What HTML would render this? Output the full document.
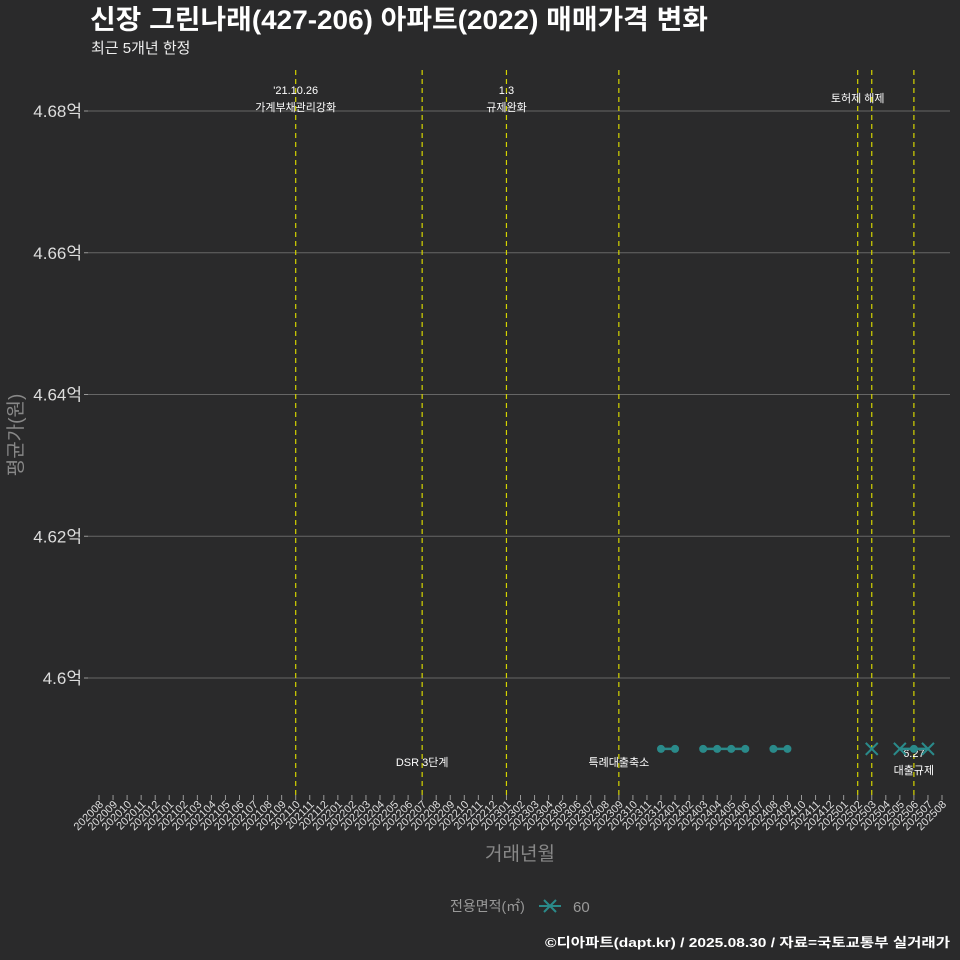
<!DOCTYPE html>
<html><head><meta charset="utf-8"><style>
html,body{margin:0;background:#2a2a2b;overflow:hidden;width:960px;height:960px;}
svg{display:block;}
svg text{font-family:"Liberation Sans","Noto Sans CJK KR",sans-serif;}
</style></head><body>
<svg id="c" width="960" height="960" xmlns="http://www.w3.org/2000/svg">
<rect width="960" height="960" fill="#2a2a2b"/>
<text x="90" y="29" font-size="27" font-weight="bold" fill="#fff" textLength="618" lengthAdjust="spacingAndGlyphs">신장 그린나래(427-206) 아파트(2022) 매매가격 변화</text>
<text x="91" y="53" font-size="15" fill="#eee">최근 5개년 한정</text>
<g id="grid"></g><g id="vlines"></g><g id="series"></g><g id="xaxis"></g>
<text transform="translate(22,435) rotate(-90)" text-anchor="middle" font-size="19" fill="#888">평균가(원)</text>
<text x="520" y="860" text-anchor="middle" font-size="19" fill="#888">거래년월</text>
<g>
<text x="450" y="911" font-size="14" fill="#999">전용면적(㎡)</text>
<line x1="539" y1="906" x2="561" y2="906" stroke="#2a8a8a" stroke-width="2"/>
<path d="M544,900 L556,912 M556,900 L544,912" stroke="#2a8a8a" stroke-width="2"/>
<text x="573" y="912" font-size="15" fill="#999">60</text>
</g>
<text x="950" y="947" text-anchor="end" font-size="13" font-weight="bold" fill="#fff" textLength="405" lengthAdjust="spacingAndGlyphs">©디아파트(dapt.kr) / 2025.08.30 / 자료=국토교통부 실거래가</text>
</svg>
<script>
const yTicks=[4.60,4.62,4.64,4.66,4.68];
const circleMonths=["202312","202401","202403","202404","202405","202406","202408","202409","202506"];
const circleValues=[4.59,4.59,4.59,4.59,4.59,4.59,4.59,4.59,4.59];
const crossMonths=["202503","202505","202507"];
const crossValues=[4.59,4.59,4.59];
const eventMonths=["202110","202207","202301","202309","202502","202503","202506"];
const eventLabels=[["'21.10.26","가계부채관리강화"],["","DSR 3단계"],["1.3","규제완화"],["","특례대출축소"],["","토허제 해제"],["",""],["6.27","대출규제"]];
const eventTop=[true,false,true,false,true,true,false];
const svg=document.getElementById('c');const NS="http://www.w3.org/2000/svg";
function mk(t,a,p){const e=document.createElementNS(NS,t);for(const k in a)e.setAttribute(k,a[k]);p.appendChild(e);return e;}
const months=[];for(let y=2020,m=8;months.length<61;){months.push(y+String(m).padStart(2,'0'));m++;if(m>12){m=1;y++;}}
function xs(mo){return 99+months.indexOf(mo)*(843/60);}
function ys(v){return 678-(v-4.60)/0.02*141.75;}
const grid=document.getElementById('grid');
yTicks.forEach(v=>{const y=ys(v);
const l=mk('line',{x1:88,x2:950,y1:y,y2:y,stroke:'#666','stroke-width':1},grid);

const tk=mk('line',{x1:84,x2:88,y1:y,y2:y,stroke:'#999'},grid);

const t=mk('text',{x:82,y:y+6,'text-anchor':'end','font-size':17,fill:'#ddd'},grid);t.textContent=v.toFixed(2).replace(/0$/,'')+'억';
});
const vl=document.getElementById('vlines');
eventMonths.forEach((mo,i)=>{const x=xs(mo);
const l=mk('line',{x1:x,x2:x,y1:70,y2:798,stroke:'#d4d400','stroke-width':1.2,'stroke-dasharray':'5,4'},vl);

const lab=eventLabels[i];const y0=eventTop[i]?(lab[0]?94:85):(lab[0]?757:749);
lab.forEach((s,j)=>{if(!s)return;const t=mk('text',{x:x,y:y0+j*17,'text-anchor':'middle','font-size':11,fill:'#fff'},vl);t.textContent=s;
});});
const xa=document.getElementById('xaxis');
months.forEach(mo=>{const x=xs(mo);
const tk=mk('line',{x1:x,x2:x,y1:795,y2:800,stroke:'#999'},xa);

const t=mk('text',{transform:`translate(${x+5},${805}) rotate(-45)`,'text-anchor':'end','font-size':11,fill:'#ddd'},xa);t.textContent=mo;
});
const se=document.getElementById('series');const col='#2a8a8a';
function seg(a,b){const l=mk('line',{x1:xs(a[0]),y1:ys(a[1]),x2:xs(b[0]),y2:ys(b[1]),stroke:col,'stroke-width':2.5},se);
}
const pts=circleMonths.map((m,i)=>[m,circleValues[i],'c']).concat(crossMonths.map((m,i)=>[m,crossValues[i],'x'])).sort((a,b)=>a[0]<b[0]?-1:1);
for(let i=1;i<pts.length;i++){const ia=months.indexOf(pts[i-1][0]),ib=months.indexOf(pts[i][0]);if(ib-ia===1)seg(pts[i-1],pts[i]);}
pts.forEach(p=>{const x=xs(p[0]),y=ys(p[1]);
if(p[2]==='c'){const c=mk('circle',{cx:x,cy:y,r:4,fill:col},se);}
else{const c=mk('path',{d:`M${x-6},${y-6}L${x+6},${y+6}M${x+6},${y-6}L${x-6},${y+6}`,stroke:col,'stroke-width':2},se);}});
</script>
</body></html>
